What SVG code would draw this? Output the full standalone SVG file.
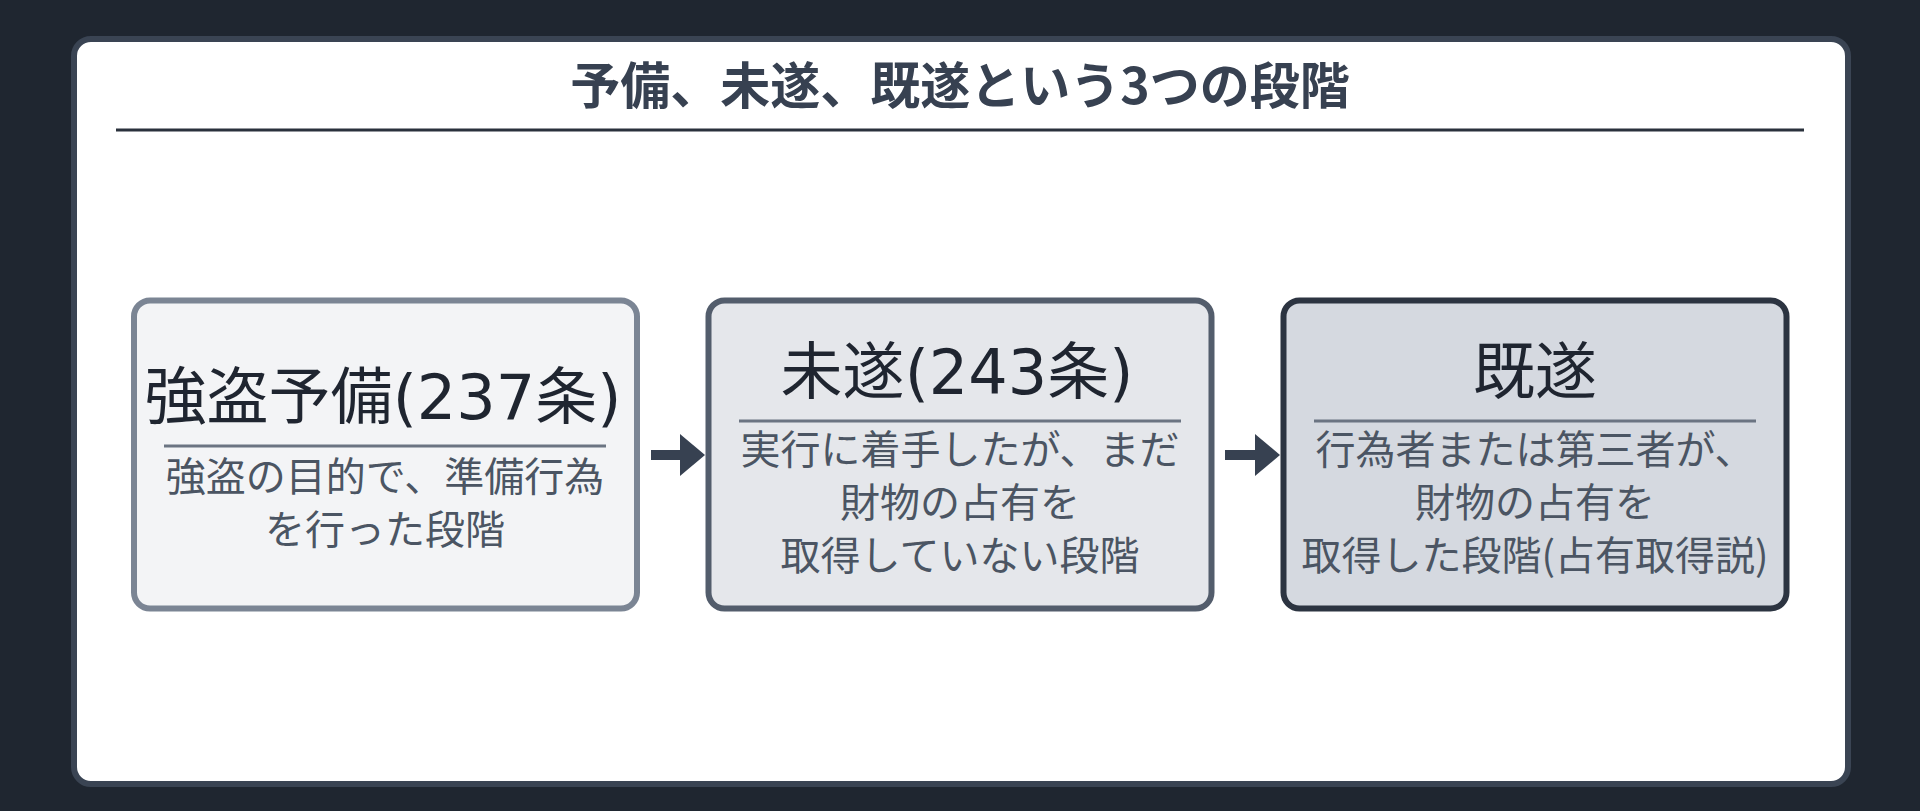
<svg xmlns="http://www.w3.org/2000/svg" width="1920" height="811" viewBox="0 0 1920 811">
<style>
.t{font-family:"Noto Sans CJK JP","Noto Sans CJK SC",sans-serif}
.title{font-size:50px;font-weight:700;fill:#374151}
.head{font-size:62px;font-weight:400;fill:#1f2530}
.num{font-family:"DejaVu Sans","Noto Sans CJK JP",sans-serif}
.body{font-size:40px;font-weight:400;fill:#4b5563}
.sep{stroke:#6b7482;stroke-width:3}
.arrow{fill:#374151}
</style>
<rect x="0" y="0" width="1920" height="811" fill="#1f2630"/>
<g id="card">
<rect x="74" y="39" width="1774" height="745" rx="17" fill="#ffffff" stroke="#3a4453" stroke-width="6"/>
<text class="t title" x="960" y="104" text-anchor="middle">予備、未遂、既遂という3つの段階</text>
<line x1="116" y1="130" x2="1804" y2="130" stroke="#2a313c" stroke-width="3"/>
</g>
<g id="node-yobi">
<rect x="134" y="300.5" width="503" height="308" rx="16" fill="#f3f4f6" stroke="#7b8594" stroke-width="6"/>
<text class="t head" x="383" y="419" text-anchor="middle">強盗予備<tspan class="num">(237</tspan>条<tspan class="num">)</tspan></text>
<line class="sep" x1="164" y1="446" x2="606" y2="446"/>
<text class="t body" x="385" y="490.5" text-anchor="middle">強盗の目的で、準備行為</text>
<text class="t body" x="385" y="543.5" text-anchor="middle">を行った段階</text>
</g>
<g id="node-misui">
<rect x="708.5" y="300.5" width="503" height="308" rx="16" fill="#e5e7eb" stroke="#535d6c" stroke-width="6"/>
<text class="t head" x="957" y="394" text-anchor="middle">未遂<tspan class="num">(243</tspan>条<tspan class="num">)</tspan></text>
<line class="sep" x1="739" y1="421" x2="1181" y2="421"/>
<text class="t body" x="960" y="464" text-anchor="middle">実行に着手したが、まだ</text>
<text class="t body" x="960" y="517" text-anchor="middle">財物の占有を</text>
<text class="t body" x="960" y="570" text-anchor="middle">取得していない段階</text>
</g>
<g id="node-kisui">
<rect x="1283.5" y="300.5" width="503" height="308" rx="16" fill="#d5d9e0" stroke="#2c3441" stroke-width="6"/>
<text class="t head" x="1535" y="394" text-anchor="middle">既遂</text>
<line class="sep" x1="1314" y1="421" x2="1756" y2="421"/>
<text class="t body" x="1535" y="464" text-anchor="middle">行為者または第三者が、</text>
<text class="t body" x="1535" y="517" text-anchor="middle">財物の占有を</text>
<text class="t body" x="1535" y="570" text-anchor="middle">取得した段階(占有取得説)</text>
</g>
<g id="connectors">
<rect class="arrow" x="651" y="450" width="32" height="10"/>
<polygon class="arrow" points="680,434 705,455 680,476"/>
<rect class="arrow" x="1225" y="450" width="32" height="10"/>
<polygon class="arrow" points="1255,434 1280,455 1255,476"/>
</g>
</svg>
